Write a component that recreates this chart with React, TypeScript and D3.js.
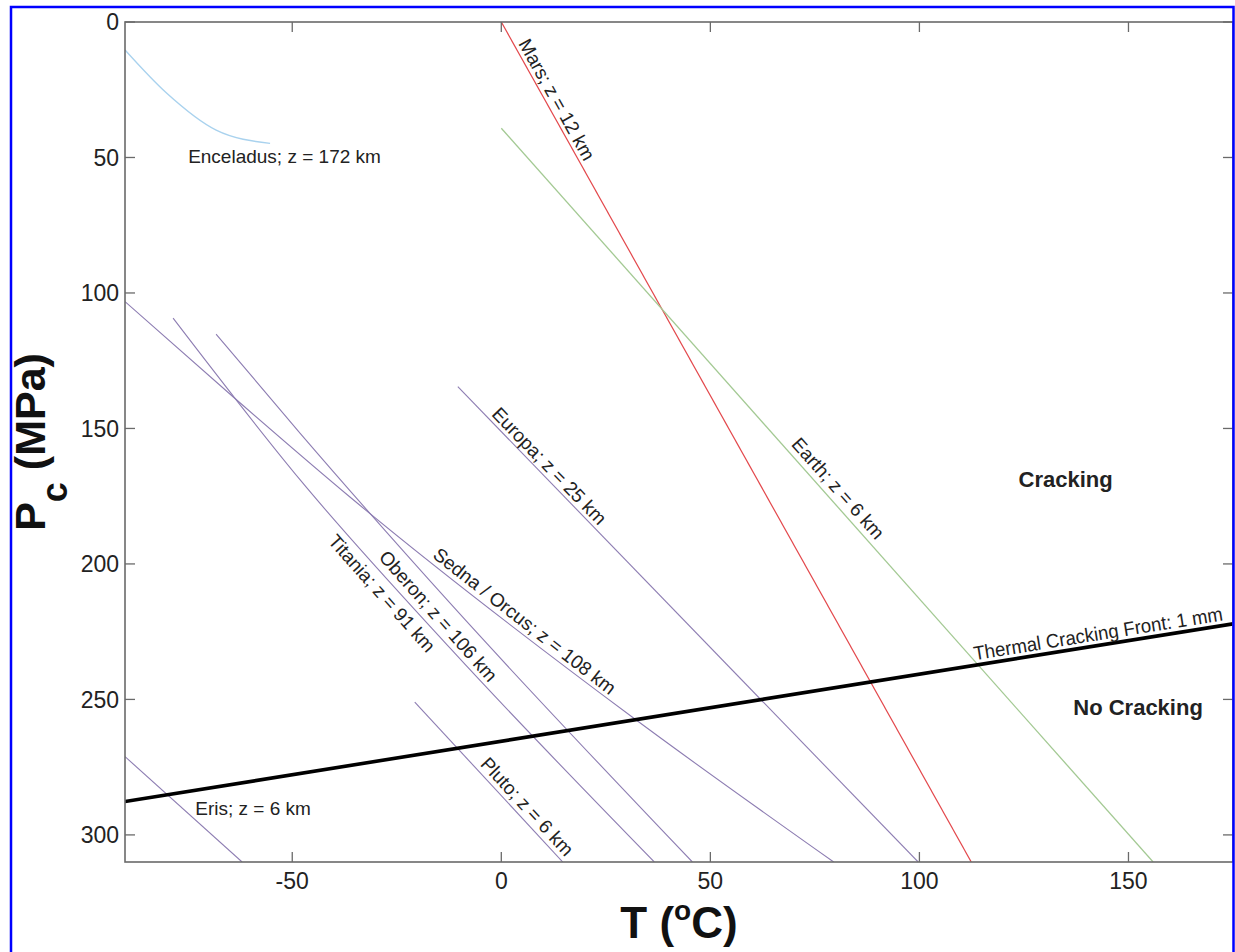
import React from "react";
import * as d3 from "d3";

// ---- data (T in °C, Pc in MPa) ----
const xTicks = [-50, 0, 50, 100, 150];
const yTicks = [0, 50, 100, 150, 200, 250, 300];

const enceladus: [number, number][] = [[-90, 10.3], [-80, 26.3], [-68.2, 39.9], [-55.3, 44.8]];
const mars: [number, number][] = [[0, 0], [112.4, 310]];
const earth: [number, number][] = [[0, 39.2], [155.9, 310]];
const europa: [number, number][] = [[-10.4, 134.6], [99.7, 310]];
const sedna: [number, number][] = [[-90, 103.2], [-64.1, 138.4], [-36.2, 175.3], [31.3, 256.5], [79.5, 310]];
const titania: [number, number][] = [[-78.5, 109.3], [-48.1, 169.0], [-12.3, 231.0], [36.6, 310]];
const oberon: [number, number][] = [[-68.2, 115.2], [-48.1, 151.8], [-12.3, 214.4], [45.7, 310]];
const pluto: [number, number][] = [[-20.7, 251.0], [14.7, 310]];
const eris: [number, number][] = [[-90, 271.1], [-62.0, 310]];
const front: [number, number][] = [[-90, 287.7], [175, 222.1]];

const series = [
  { name: "Enceladus", pts: enceladus, color: "#a9d2ee", width: 1.4 },
  { name: "Mars", pts: mars, color: "#e3474b", width: 1.2 },
  { name: "Earth", pts: earth, color: "#a3c993", width: 1.3 },
  { name: "Europa", pts: europa, color: "#8d7db2", width: 1.1 },
  { name: "Sedna", pts: sedna, color: "#8d7db2", width: 1.1 },
  { name: "Titania", pts: titania, color: "#8d7db2", width: 1.1 },
  { name: "Oberon", pts: oberon, color: "#8d7db2", width: 1.1 },
  { name: "Pluto", pts: pluto, color: "#8d7db2", width: 1.1 },
  { name: "Eris", pts: eris, color: "#8d7db2", width: 1.1 },
  { name: "Front", pts: front, color: "#000000", width: 3.6 },
];

const lineLabels = [
  { text: "Mars; z = 12 km", pts: mars, t: 3.15, off: -4, size: 19, len: 0 },
  { text: "Earth; z = 6 km", pts: earth, t: 68.1, off: -6, size: 19, len: 0 },
  { text: "Europa; z = 25 km", pts: europa, t: -3.2, off: -4, size: 19, len: 0 },
  { text: "Sedna / Orcus; z = 108 km", pts: sedna, t: -17.1, off: -3, size: 19, len: 0 },
  { text: "Oberon; z = 106 km", pts: oberon, t: -25.2, off: 24, size: 19, len: 0 },
  { text: "Titania; z = 91 km", pts: titania, t: -37.9, off: 21, size: 19, len: 0 },
  { text: "Pluto; z = 6 km", pts: pluto, t: -6.1, off: -5, size: 19, len: 0 },
  { text: "Thermal Cracking Front: 1 mm", pts: front, t: 113.4, off: -5, size: 19.5, len: 252 },
];

const freeLabels = [
  { text: "Enceladus; z = 172 km", t: -74.9, p: 52.1, bold: false, size: 19 },
  { text: "Eris; z = 6 km", t: -73.2, p: 292.6, bold: false, size: 19 },
  { text: "Cracking", t: 123.7, p: 171.6, bold: true, size: 22 },
  { text: "No Cracking", t: 136.8, p: 255.7, bold: true, size: 22 },
];

const FONT = "'Liberation Sans', Arial, Helvetica, sans-serif";

export default function App() {
  const W = 1235, H = 952;
  const left = 125, right = 1233, top = 22, bottom = 862;
  const x = d3.scaleLinear().domain([-90, 175]).range([left, right]);
  const y = d3.scaleLinear().domain([0, 310]).range([top, bottom]);

  const line = d3
    .line<[number, number]>()
    .x((d) => x(d[0]))
    .y((d) => y(d[1]))
    .curve(d3.curveMonotoneX);

  const axisColor = "#6a6a6a";

  const labelGeom = (pts: [number, number][], t: number) => {
    let i = 0;
    while (i < pts.length - 2 && t > pts[i + 1][0]) i++;
    const a = pts[i], b = pts[i + 1];
    const f = (t - a[0]) / (b[0] - a[0]);
    const p = a[1] + f * (b[1] - a[1]);
    const ang = (Math.atan2(y(b[1]) - y(a[1]), x(b[0]) - x(a[0])) * 180) / Math.PI;
    return { px: x(t), py: y(p), ang };
  };

  return (
    <svg
      width={W}
      height={H}
      style={{ position: "absolute", left: 0, top: 0, background: "#fff" }}
      fontFamily={FONT}
    >
      <defs>
        <clipPath id="plotclip">
          <rect x={left} y={top} width={right - left} height={bottom - top} />
        </clipPath>
      </defs>
      <rect x={0} y={0} width={W} height={H} fill="#fff" />

      {/* series */}
      <g clipPath="url(#plotclip)">
        {series.map((s) => (
          <path key={s.name} d={line(s.pts) || ""} fill="none" stroke={s.color} strokeWidth={s.width} />
        ))}
      </g>

      {/* axes box */}
      <rect x={left} y={top} width={right - left} height={bottom - top} fill="none" stroke={axisColor} strokeWidth={1.6} />
      {xTicks.map((t) => (
        <g key={"x" + t}>
          <line x1={x(t)} x2={x(t)} y1={bottom} y2={bottom - 10} stroke={axisColor} strokeWidth={1.3} />
          <line x1={x(t)} x2={x(t)} y1={top} y2={top + 10} stroke={axisColor} strokeWidth={1.3} />
          <text x={x(t)} y={889} textAnchor="middle" fontSize={23} fill="#222">
            {t}
          </text>
        </g>
      ))}
      {yTicks.map((t) => (
        <g key={"y" + t}>
          <line x1={left} x2={left + 10} y1={y(t)} y2={y(t)} stroke={axisColor} strokeWidth={1.3} />
          <line x1={right} x2={right - 10} y1={y(t)} y2={y(t)} stroke={axisColor} strokeWidth={1.3} />
          <text x={119} y={y(t)} dy="0.36em" textAnchor="end" fontSize={23} fill="#222">
            {t}
          </text>
        </g>
      ))}

      {/* line labels */}
      {lineLabels.map((l) => {
        const g = labelGeom(l.pts, l.t);
        const extra = l.len ? { textLength: l.len, lengthAdjust: "spacingAndGlyphs" } : {};
        return (
          <text
            key={l.text}
            transform={`translate(${g.px},${g.py}) rotate(${g.ang}) translate(0,${l.off})`}
            fontSize={l.size}
            fill="#222"
            {...extra}
          >
            {l.text}
          </text>
        );
      })}

      {freeLabels.map((l) => (
        <text
          key={l.text}
          x={x(l.t)}
          y={y(l.p)}
          fontSize={l.size}
          fontWeight={l.bold ? "bold" : "normal"}
          fill="#222"
        >
          {l.text}
        </text>
      ))}

      {/* axis titles */}
      <text x={679} y={938} textAnchor="middle" fontSize={44} fontWeight="bold" fill="#111">
        T (<tspan fontSize={28} dy={-18}>o</tspan>
        <tspan dy={18}>C)</tspan>
      </text>
      <text
        transform={`translate(45,${(top + bottom) / 2}) rotate(-90)`}
        textAnchor="middle"
        fontSize={43}
        fontWeight="bold"
        fill="#111"
      >
        P<tspan fontSize={36} dy={22}>c</tspan>
        <tspan dy={-22}> (MPa)</tspan>
      </text>

      {/* outer blue frame */}
      <rect x={11} y={7} width={1222.5} height={952} fill="none" stroke="#0000ff" strokeWidth={2.5} />
    </svg>
  );
}
